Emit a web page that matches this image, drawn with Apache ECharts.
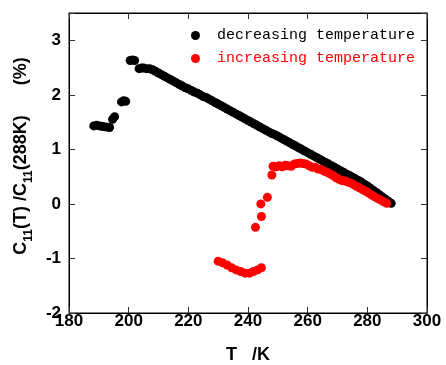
<!DOCTYPE html>
<html>
<head>
<meta charset="utf-8">
<style>
  html, body { margin: 0; padding: 0; background: #fff; }
  #chart { width: 446px; height: 365px; }
</style>
<script src="https://cdn.jsdelivr.net/npm/echarts@6/dist/echarts.min.js"></script>
</head>
<body>
<div id="chart"></div>
<script>
// Cooling run: temperature (K) and relative change of C11 (%)
const decTemp = [
  188.3, 189.3, 190.3, 191.3, 192.5, 193.6, 194.6, 195.3, 197.6, 198.3, 199.0,
  200.5, 201.3, 202.0, 203.5, 204.3,
  205, 206, 207, 208, 209, 210, 211, 212, 213, 214, 215, 216, 217, 218, 219,
  220, 221, 222, 223, 224, 225, 226, 227, 228, 229, 230, 231, 232, 233, 234,
  235, 236, 237, 238, 239, 240, 241, 242, 243, 244, 245, 246, 247, 248, 249,
  250, 251, 252, 253, 254, 255, 256, 257, 258, 259, 260, 261, 262, 263, 264,
  265, 266, 267, 268, 269, 270, 271, 272, 273, 274, 275, 276, 277, 278, 279,
  280, 281, 282, 283, 284, 285, 286, 287, 288
];
const decValue = [
  1.43, 1.44, 1.43, 1.42, 1.41, 1.40, 1.55, 1.60, 1.87, 1.89, 1.88,
  2.63, 2.64, 2.63, 2.48, 2.49,
  2.49, 2.48, 2.48, 2.46, 2.43, 2.40, 2.37, 2.34, 2.31, 2.28, 2.25, 2.22, 2.19, 2.16, 2.13,
  2.11, 2.08, 2.05, 2.03, 2.00, 1.97, 1.95, 1.92, 1.89, 1.86, 1.83, 1.80, 1.77, 1.74, 1.71,
  1.68, 1.65, 1.62, 1.59, 1.56, 1.53, 1.50, 1.47, 1.44, 1.41, 1.38, 1.35, 1.32, 1.29, 1.27,
  1.24, 1.21, 1.18, 1.15, 1.12, 1.09, 1.06, 1.03, 1.00, 0.97, 0.94, 0.91, 0.88, 0.85, 0.82,
  0.79, 0.76, 0.73, 0.70, 0.67, 0.64, 0.61, 0.58, 0.55, 0.52, 0.49, 0.46, 0.43, 0.40, 0.36,
  0.33, 0.29, 0.25, 0.21, 0.17, 0.13, 0.09, 0.05, 0.01
];

// Heating run
const incTemp = [
  230.0, 231.5, 233.0, 234.5, 236.0, 237.5, 239.0, 240.5, 241.8, 243.2, 244.5,
  242.5, 244.5, 244.3, 246.5,
  248.0, 248.4, 249.5, 250.5, 251.5, 252.5, 253.5, 254.5, 255.5, 256.5, 257.5,
  258.5, 259.5, 260.5, 261.5, 262.5, 263.5, 264.5, 265.5, 266.5, 267.5, 268.5,
  269.5, 270.5, 271.5, 272.5, 273.5, 274.5, 275.5, 276.5, 277.5, 278.5, 279.5,
  280.5, 281.5, 282.5, 283.5, 284.5, 285.5, 286.5
];
const incValue = [
  -1.05, -1.08, -1.12, -1.17, -1.21, -1.24, -1.27, -1.27, -1.24, -1.21, -1.17,
  -0.43, -0.23, 0.00, 0.12,
  0.53, 0.69, 0.68, 0.70, 0.68, 0.71, 0.70, 0.69, 0.73, 0.74, 0.75,
  0.74, 0.73, 0.70, 0.67, 0.67, 0.64, 0.63, 0.60, 0.58, 0.55, 0.52,
  0.48, 0.45, 0.43, 0.42, 0.40, 0.38, 0.35, 0.32, 0.29, 0.26, 0.23,
  0.20, 0.16, 0.13, 0.10, 0.07, 0.04, 0.01
];

const seriesNames = ['decreasing temperature', 'increasing temperature'];
const xTicks = { min: 180, max: 300, step: 20 };
const yTicks = { min: -2, max: 3.5, step: 1 };

const pair = (xs, ys) => xs.map((x, i) => [x, ys[i]]);

const tickFont = { fontFamily: 'Liberation Sans, Arial, sans-serif', fontWeight: 'bold', fontSize: 17, color: '#000' };
const nameMain = { fontFamily: 'Liberation Sans, Arial, sans-serif', fontWeight: 'bold', fontSize: 18, color: '#000' };

// value axis drawn as one side of the closed frame, ticks pointing inward
function frameAxis(extra) {
  return Object.assign({
    type: 'value',
    axisLine: { show: true, onZero: false, lineStyle: { color: '#000', width: 1 } },
    axisTick: { show: true, inside: true, length: 6, lineStyle: { color: '#333' } },
    splitLine: { show: false },
  }, extra);
}

const chart = echarts.init(document.getElementById('chart'), null, { renderer: 'canvas' });
chart.setOption({
  backgroundColor: '#fff',
  animation: false,
  grid: {
    left: 69, right: 19, top: 13, bottom: 52,
    outerBoundsMode: 'none', containLabel: false,
    show: true, borderColor: '#000', borderWidth: 1, backgroundColor: 'transparent'
  },
  legend: {
    orient: 'vertical',
    left: 186,
    top: 23,
    itemWidth: 9,
    itemHeight: 9,
    itemGap: 8,
    icon: 'circle',
    textStyle: { fontFamily: 'Liberation Mono, monospace', fontSize: 15, lineHeight: 15, padding: [0, 0, 0, 12] },
    data: [
      { name: seriesNames[0], textStyle: { color: '#000' } },
      { name: seriesNames[1], textStyle: { color: '#ff0000' } }
    ]
  },
  xAxis: [
    frameAxis({
      position: 'bottom', min: xTicks.min, max: xTicks.max, interval: xTicks.step,
      axisLabel: Object.assign({ margin: 0 }, tickFont),
      name: 'T   /K', nameLocation: 'middle', nameGap: 33, nameTextStyle: nameMain
    }),
    frameAxis({
      position: 'top', min: xTicks.min, max: xTicks.max, interval: xTicks.step,
      axisLabel: { show: false }
    })
  ],
  yAxis: [
    frameAxis({
      position: 'left', min: yTicks.min, max: yTicks.max, interval: yTicks.step,
      axisLabel: Object.assign({ margin: 8, formatter: v => Number.isInteger(v) ? String(v) : '' }, tickFont),
      name: '{m|C}{s|11}{m|(T) /C}{s|11}{m|(288K)      (%)}',
      nameLocation: 'middle',
      nameGap: 32,
      nameTextStyle: {
        padding: [0, 0, 0, 14],
        rich: {
          m: Object.assign({ lineHeight: 28, verticalAlign: 'middle' }, nameMain),
          s: { fontFamily: 'Liberation Sans, Arial, sans-serif', fontWeight: 'bold', fontSize: 12, color: '#000', lineHeight: 10, verticalAlign: 'bottom' }
        }
      }
    }),
    frameAxis({
      position: 'right', min: yTicks.min, max: yTicks.max, interval: yTicks.step,
      axisLabel: { show: false }
    })
  ],
  series: [
    {
      name: seriesNames[0], type: 'scatter', symbol: 'circle', symbolSize: 9,
      itemStyle: { color: '#000', opacity: 1 },
      data: pair(decTemp, decValue)
    },
    {
      name: seriesNames[1], type: 'scatter', symbol: 'circle', symbolSize: 9,
      itemStyle: { color: '#ff0000', opacity: 1 },
      data: pair(incTemp, incValue)
    }
  ]
});
</script>
</body>
</html>
